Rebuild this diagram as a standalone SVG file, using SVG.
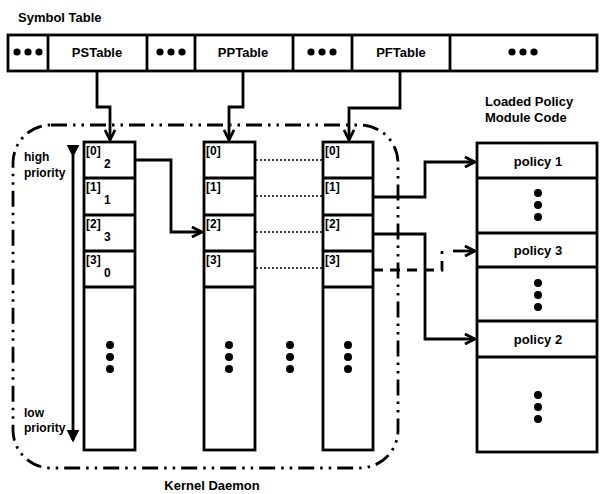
<svg xmlns="http://www.w3.org/2000/svg" width="602" height="494" viewBox="0 0 602 494">
<style>
.box{fill:#fff;stroke:#000;stroke-width:2.8}
.ln{fill:none;stroke:#000;stroke-width:2.8}
.dot{fill:none;stroke:#000;stroke-width:1.6;stroke-dasharray:2 2}
.t{font-family:"Liberation Sans","DejaVu Sans",sans-serif;font-weight:bold;font-size:13px;fill:#000}
.s{font-family:"Liberation Sans","DejaVu Sans",sans-serif;font-weight:bold;font-size:12px;fill:#000}
.c{text-anchor:middle}
</style>
<defs>
<marker id="chev" viewBox="0 0 10 10" refX="9" refY="5" markerWidth="4.5" markerHeight="4.5" orient="auto" markerUnits="strokeWidth">
<path d="M1,1 L9,5 L1,9" fill="none" stroke="#000" stroke-width="2.2"/>
</marker>
<marker id="tri" viewBox="0 0 10 10" refX="8" refY="5" markerWidth="4.5" markerHeight="4.5" orient="auto" markerUnits="strokeWidth">
<path d="M0,0 L10,5 L0,10 Z" fill="#000"/>
</marker>
<g id="dots3"><circle cx="0" cy="0" r="4"/><circle cx="0" cy="12" r="4"/><circle cx="0" cy="24" r="4"/></g>
<g id="dotsH"><circle cx="-11" cy="0" r="3.6"/><circle cx="0" cy="0" r="3.6"/><circle cx="11" cy="0" r="3.6"/></g>
</defs>
<rect width="602" height="494" fill="#fff"/>

<g id="symbol-table">
<text class="t" x="18" y="22">Symbol Table</text>
<rect class="box" x="8" y="35" width="589" height="36"/>
<line class="ln" x1="48" y1="35" x2="48" y2="71"/>
<line class="ln" x1="147" y1="35" x2="147" y2="71"/>
<line class="ln" x1="195" y1="35" x2="195" y2="71"/>
<line class="ln" x1="293" y1="35" x2="293" y2="71"/>
<line class="ln" x1="352" y1="35" x2="352" y2="71"/>
<line class="ln" x1="450" y1="35" x2="450" y2="71"/>
<use href="#dotsH" x="28" y="52"/>
<use href="#dotsH" x="171" y="52"/>
<use href="#dotsH" x="322" y="52"/>
<use href="#dotsH" x="523" y="52"/>
<text class="t c" x="97" y="57">PSTable</text>
<text class="t c" x="243" y="57">PPTable</text>
<text class="t c" x="401" y="57">PFTable</text>
</g>

<g id="kernel-daemon">
<rect x="13" y="125" width="385" height="343" rx="38" fill="none" stroke="#000" stroke-width="2.8" stroke-dasharray="16 6 2.5 6 2.5 6"/>
<text class="t c" x="212" y="490">Kernel Daemon</text>
</g>

<g id="priority-axis">
<line class="ln" x1="73" y1="155" x2="73" y2="440" marker-start="url(#tri)" marker-end="url(#tri)"/>
<text class="s" x="24" y="161">high</text>
<text class="s" x="24" y="177">priority</text>
<text class="s" x="24" y="417">low</text>
<text class="s" x="24" y="432">priority</text>
</g>

<g id="ps-table">
<rect class="box" x="84" y="142" width="51" height="308"/>
<line class="ln" x1="84" y1="178" x2="135" y2="178"/>
<line class="ln" x1="84" y1="215" x2="135" y2="215"/>
<line class="ln" x1="84" y1="251" x2="135" y2="251"/>
<line class="ln" x1="84" y1="287" x2="135" y2="287"/>
<text class="s" x="86" y="155">[0]</text><text class="s" x="104" y="168">2</text>
<text class="s" x="86" y="191">[1]</text><text class="s" x="104" y="204">1</text>
<text class="s" x="86" y="228">[2]</text><text class="s" x="104" y="241">3</text>
<text class="s" x="86" y="264">[3]</text><text class="s" x="104" y="277">0</text>
<use href="#dots3" x="110" y="345"/>
</g>

<g id="pp-table">
<rect class="box" x="204" y="142" width="51" height="308"/>
<line class="ln" x1="204" y1="178" x2="255" y2="178"/>
<line class="ln" x1="204" y1="215" x2="255" y2="215"/>
<line class="ln" x1="204" y1="251" x2="255" y2="251"/>
<line class="ln" x1="204" y1="287" x2="255" y2="287"/>
<text class="s" x="206" y="155">[0]</text>
<text class="s" x="206" y="191">[1]</text>
<text class="s" x="206" y="228">[2]</text>
<text class="s" x="206" y="264">[3]</text>
<use href="#dots3" x="229" y="345"/>
</g>

<use href="#dots3" x="290" y="345"/>

<g id="pf-table">
<rect class="box" x="323" y="142" width="50" height="308"/>
<line class="ln" x1="323" y1="178" x2="373" y2="178"/>
<line class="ln" x1="323" y1="215" x2="373" y2="215"/>
<line class="ln" x1="323" y1="251" x2="373" y2="251"/>
<line class="ln" x1="323" y1="287" x2="373" y2="287"/>
<text class="s" x="325" y="155">[0]</text>
<text class="s" x="325" y="191">[1]</text>
<text class="s" x="325" y="228">[2]</text>
<text class="s" x="325" y="264">[3]</text>
<use href="#dots3" x="348" y="345"/>
</g>

<g id="policy-module">
<text class="t" x="485" y="106">Loaded Policy</text>
<text class="t" x="485" y="122">Module Code</text>
<rect class="box" x="477" y="143" width="120" height="309"/>
<line class="ln" x1="477" y1="178" x2="597" y2="178"/>
<line class="ln" x1="477" y1="233" x2="597" y2="233"/>
<line class="ln" x1="477" y1="267" x2="597" y2="267"/>
<line class="ln" x1="477" y1="321" x2="597" y2="321"/>
<line class="ln" x1="477" y1="357" x2="597" y2="357"/>
<text class="t c" x="538" y="166">policy 1</text>
<text class="t c" x="538" y="255">policy 3</text>
<text class="t c" x="538" y="344">policy 2</text>
<use href="#dots3" x="538" y="193"/>
<use href="#dots3" x="538" y="283"/>
<use href="#dots3" x="538" y="395"/>
</g>

<g id="connectors">
<path class="ln" d="M97,71 V107 H110 V140" marker-end="url(#chev)"/>
<path class="ln" d="M243,71 V107 H229 V140" marker-end="url(#chev)"/>
<path class="ln" d="M400,71 V108 H349 V140" marker-end="url(#chev)"/>
<path class="ln" d="M135,160 H171 V232 H202" marker-end="url(#chev)"/>
<line class="dot" x1="256" y1="160" x2="322" y2="160"/>
<line class="dot" x1="256" y1="196" x2="322" y2="196"/>
<line class="dot" x1="256" y1="232" x2="322" y2="232"/>
<line class="dot" x1="256" y1="268" x2="322" y2="268"/>
<path class="ln" d="M373,197 H425 V162 H475" marker-end="url(#chev)"/>
<path class="ln" d="M373,234 H425 V339 H475" marker-end="url(#chev)"/>
<path class="ln" d="M373,270 H442 V251" stroke-dasharray="10 7"/>
<path class="ln" d="M453,251 H475" marker-end="url(#chev)"/>
</g>
</svg>
